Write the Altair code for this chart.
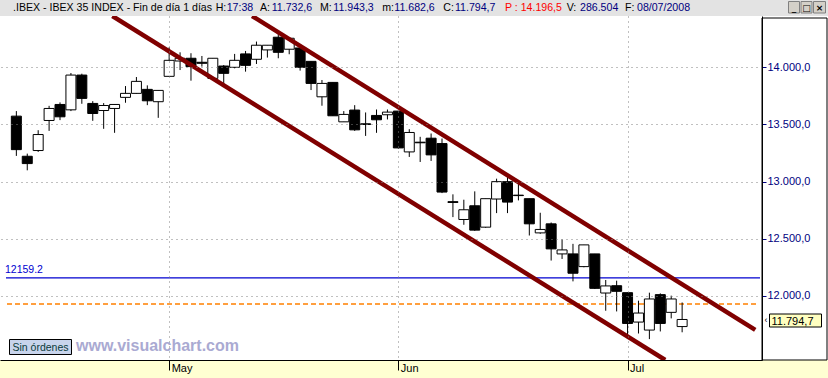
import altair as alt
import pandas as pd

# ---------------- data ----------------
idx = list(range(62))
opens = [13573, 13222, 13272, 13535, 13675, 13628, 13932, 13684, 13622, 13640,
         13737, 13772, 13807, 13699, 13921, 14055, 14079, 14044, 13903, 14011,
         14000, 14117, 14070, 14152, 14263, 14158, 14169, 14052, 13742, 13868,
         13523, 13626, 13506, 13579, 13585, 13617, 13260, 13345, 13380, 13333,
         12825, 12669, 12789, 12602, 12848, 13000, 12882, 12851, 12552, 12631,
         12368, 12368, 12257, 12368, 12026, 12090, 12029, 11772, 11702, 12012,
         11857, 11732.6]
highs = [13617, 13245, 13450, 13663, 13693, 13950, 13944, 13704, 13687, 13675,
         13836, 13915, 13842, 13798, 14175, 14131, 14123, 14099, 14079, 14020,
         14117, 14143, 14225, 14193, 14313, 14254, 14169, 14052, 13889, 13868,
         13617, 13669, 13605, 13631, 13631, 13617, 13459, 13392, 13421, 13377,
         12889, 12842, 12915, 12851, 13026, 13041, 12988, 12851, 12728, 12643,
         12494, 12456, 12447, 12368, 12140, 12134, 12029, 11959, 12029, 12023,
         12003, 11943.3]
lows = [13225, 13099, 13260, 13444, 13538, 13617, 13681, 13532, 13462, 13427,
        13690, 13769, 13669, 13558, 13921, 13976, 13883, 14006, 13889, 13845,
        13991, 13962, 14029, 14085, 14079, 14114, 13971, 13801, 13664, 13576,
        13523, 13444, 13400, 13427, 13544, 13289, 13216, 13172, 13181, 12900,
        12690, 12623, 12570, 12596, 12725, 12725, 12836, 12529, 12544, 12310,
        12324, 12128, 12251, 12061, 11871, 11865, 11640, 11672, 11623, 11690,
        11804, 11682.6]
closes = [13280, 13158, 13412, 13640, 13567, 13932, 13728, 13596, 13666, 13675,
          13772, 13877, 13707, 13798, 14061, 14079, 14006, 14035, 14079, 13947,
          14061, 14017, 14193, 14193, 14131, 14254, 14000, 13859, 13859, 13576,
          13588, 13453, 13500, 13541, 13608, 13295, 13430, 13340, 13234, 12909,
          12818, 12754, 12576, 12851, 13000, 12821, 12878, 12631, 12582, 12412,
          12403, 12199, 12447, 12067, 12088, 12041, 11760, 11851, 11974, 11760,
          11974, 11794.7]

month_labels = ["May", "Jun", "Jul"]
month_idx = [14, 35, 56]
y_ticks = [12000, 12500, 13000, 13500, 14000]

ref_level = 12159.2
ref_label = "12159.2"
orange_level = 11930

channel_upper_idx = [21.6, 67.7]
channel_upper_val = [14448.6, 11703]
channel_lower_idx = [8.8, 59.45]
channel_lower_val = [14448.6, 11440.3]

last_close_label = "11.794,7"
header_texts = [".IBEX - IBEX 35 INDEX - Fin de día 1 días", "H:", "17:38", "A:", "11.732,6",
                "M:", "11.943,3", "m:", "11.682,6", "C:", "11.794,7", "P : 14.196,5",
                "V:", "286.504", "F:", "08/07/2008"]

# ---------------- layout / style ----------------
W, H = 762, 344
header_x = [13, 215.7, 226.7, 260, 271.7, 320, 333.3, 382.3, 394.3, 443.3, 455, 505,
            566.7, 580, 625, 637]
header_col = ["black", "black", "#00007f", "black", "#00007f", "black", "#00007f", "black",
              "#00007f", "black", "#00007f", "#ff0000", "black", "#00007f", "black", "#00007f"]
FONT = "Liberation Sans"

xs = alt.Scale(domain=[-1.04, 67.86], nice=False, zero=False)
ys = alt.Scale(domain=[11440.3, 14448.6], nice=False, zero=False)

x_expr = " : ".join(f"datum.value == {i} ? '{l}'" for i, l in zip(month_idx, month_labels)) + " : ''"
eu_fmt = "replace(replace(replace(format(datum.value, ',.1f'), ',', '_'), '.', ','), '_', '.')"

xaxis = alt.Axis(values=month_idx, labelExpr=x_expr, title=None, grid=True,
                 gridColor="#808080", gridDash=[1, 4], gridWidth=1,
                 domain=True, domainColor="black", domainWidth=1,
                 ticks=True, tickColor="black", tickSize=10,
                 labelAlign="left", labelBaseline="alphabetic", labelPadding=1, labelOffset=2,
                 labelFont=FONT, labelFontSize=11, labelColor="black", zindex=1)
yaxis = alt.Axis(orient="right", values=y_ticks, labelExpr=eu_fmt, title=None, grid=True,
                 gridColor="#808080", gridDash=[1, 4], gridWidth=1,
                 domain=True, domainColor="black", domainWidth=1,
                 ticks=True, tickColor="#000080", tickSize=4,
                 labelPadding=1, labelFont=FONT, labelFontSize=11, labelColor="#000080",
                 labelBaseline="middle", zindex=1)

df = pd.DataFrame({"i": idx, "open": opens, "high": highs, "low": lows, "close": closes})

one = pd.DataFrame({"a": [0]})

bottom_band = alt.Chart(one).mark_rect(color="#ffffd2").encode(
    x=alt.value(0), x2=alt.value(828), y=alt.value(H), y2=alt.value(H + 18))
header_bg = alt.Chart(one).mark_rect(color="#e3e3e3").encode(
    x=alt.value(0), x2=alt.value(828), y=alt.value(-16), y2=alt.value(0))

ref_rule = alt.Chart(pd.DataFrame({"v": [ref_level]})).mark_rule(color="#0000d0", strokeWidth=1.2).encode(
    y=alt.Y("v:Q", scale=ys, axis=yaxis), x=alt.value(6), x2=alt.value(760))
ref_text = alt.Chart(pd.DataFrame({"v": [ref_level], "t": [ref_label]})).mark_text(
    align="left", baseline="alphabetic", dy=-5, font=FONT, fontSize=10.5, color="#0000d0").encode(
    y=alt.Y("v:Q", scale=ys, axis=yaxis), x=alt.value(5), text="t:N")
orange_rule = alt.Chart(pd.DataFrame({"v": [orange_level]})).mark_rule(
    color="#ff8000", strokeWidth=1.4, strokeDash=[5, 3]).encode(
    y=alt.Y("v:Q", scale=ys, axis=yaxis), x=alt.value(7), x2=alt.value(758))

wicks = alt.Chart(df).mark_rule(color="black", strokeWidth=1).encode(
    x=alt.X("i:Q", scale=xs, axis=xaxis),
    y=alt.Y("low:Q", scale=ys, axis=yaxis), y2="high:Q")
bodies = alt.Chart(df).mark_bar(size=10, stroke="black", strokeWidth=1).encode(
    x=alt.X("i:Q", scale=xs, axis=xaxis),
    y=alt.Y("open:Q", scale=ys, axis=yaxis), y2="close:Q",
    fill=alt.condition("datum.close >= datum.open", alt.value("white"), alt.value("black")))

ch = pd.DataFrame({
    "i": channel_upper_idx + channel_lower_idx,
    "v": channel_upper_val + channel_lower_val,
    "line": ["upper", "upper", "lower", "lower"]})
channel = alt.Chart(ch).mark_line(color="#800000", strokeWidth=4.5, clip=True).encode(
    x=alt.X("i:Q", scale=xs, axis=xaxis), y=alt.Y("v:Q", scale=ys, axis=yaxis), detail="line:N")

right_box = alt.Chart(one).mark_rect(fillOpacity=0, stroke="black", strokeWidth=1).encode(
    x=alt.value(762), x2=alt.value(827), y=alt.value(2), y2=alt.value(H))
close_box = alt.Chart(one).mark_rect(color="#ffffc0", stroke="black", strokeWidth=1).encode(
    x=alt.value(769.5), x2=alt.value(821.5), y=alt.value(298), y2=alt.value(311))
close_text = alt.Chart(pd.DataFrame({"t": [last_close_label]})).mark_text(
    align="left", baseline="alphabetic", font=FONT, fontSize=11, color="black").encode(
    x=alt.value(771.5), y=alt.value(309), text="t:N")
close_mark = alt.Chart(pd.DataFrame({"t": ["‹"]})).mark_text(
    align="center", baseline="middle", font=FONT, fontSize=9, color="black").encode(
    x=alt.value(766), y=alt.value(303.5), text="t:N")

sin_box = alt.Chart(one).mark_rect(color="#c8d4ec", stroke="black", strokeWidth=1).encode(
    x=alt.value(9.5), x2=alt.value(71.5), y=alt.value(323.5), y2=alt.value(338.5))
sin_text = alt.Chart(pd.DataFrame({"t": ["Sin órdenes"]})).mark_text(
    align="center", baseline="alphabetic", font=FONT, fontSize=10.5, color="#0a3a3a").encode(
    x=alt.value(40.5), y=alt.value(334.5), text="t:N")
watermark = alt.Chart(pd.DataFrame({"t": ["www.visualchart.com"]})).mark_text(
    align="left", baseline="alphabetic", font=FONT, fontSize=16, fontWeight="bold", color="#aaaad2").encode(
    x=alt.value(76), y=alt.value(334.5), text="t:N")

header_layers = []
for t, xx, c in zip(header_texts, header_x, header_col):
    header_layers.append(
        alt.Chart(pd.DataFrame({"t": [t]})).mark_text(
            align="left", baseline="alphabetic", font=FONT, fontSize=10.6, color=c).encode(
            x=alt.value(xx), y=alt.value(-5.5), text="t:N"))

btn_x = [(788.5, 799.5, "_"), (801, 812, "□"), (813.5, 825.5, "×")]
btn_layers = []
for x1, x2, g in btn_x:
    btn_layers.append(alt.Chart(one).mark_rect(color="#d4d0c8", stroke="#808080", strokeWidth=1).encode(
        x=alt.value(x1), x2=alt.value(x2), y=alt.value(-14.5), y2=alt.value(-3)))
    btn_layers.append(alt.Chart(pd.DataFrame({"t": [g]})).mark_text(
        align="center", baseline="middle", font="DejaVu Sans", fontSize=9, fontWeight="bold", color="black").encode(
        x=alt.value((x1 + x2) / 2), y=alt.value(-8.5), text="t:N"))

chart = alt.layer(
    bottom_band, header_bg, ref_rule, orange_rule, wicks, bodies, channel, ref_text,
    right_box, close_box, close_text, close_mark, sin_box, sin_text, watermark,
    *header_layers, *btn_layers
).properties(
    width=W, height=H,
    padding={"left": 0, "top": 16, "right": 66, "bottom": 18},
    autosize=alt.AutoSizeParams(type="none"),
    background="white",
).configure_view(stroke=None)

chart.save("out.html", embed_options={"renderer": "svg", "actions": False})
